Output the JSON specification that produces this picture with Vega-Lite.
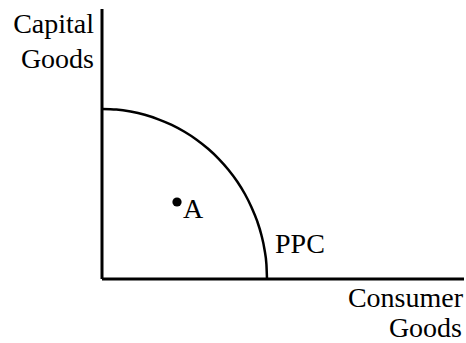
{
  "$schema": "https://vega.github.io/schema/vega-lite/v6.json",
  "width": 466,
  "height": 343,
  "padding": 0,
  "autosize": {"type": "none"},
  "config": {"view": {"stroke": null}},
  "datasets": {
    "axes": [
      {"x": 0, "y": 0, "x2": 0, "y2": 270},
      {"x": 0, "y": 0, "x2": 362, "y2": 0}
    ],
    "ppc": [
      {"consumer": 0, "capital": 170},
      {"consumer": 14.4, "capital": 169.4},
      {"consumer": 28.6, "capital": 167.4},
      {"consumer": 42.7, "capital": 164.2},
      {"consumer": 56.4, "capital": 159.7},
      {"consumer": 69.7, "capital": 154.1},
      {"consumer": 82.5, "capital": 147.2},
      {"consumer": 94.6, "capital": 139.3},
      {"consumer": 106.1, "capital": 130.2},
      {"consumer": 116.7, "capital": 120.2},
      {"consumer": 126.4, "capital": 109.3},
      {"consumer": 135.2, "capital": 97.5},
      {"consumer": 142.9, "capital": 85},
      {"consumer": 149.5, "capital": 71.8},
      {"consumer": 155.1, "capital": 58.1},
      {"consumer": 159.4, "capital": 44},
      {"consumer": 162.5, "capital": 29.5},
      {"consumer": 164.4, "capital": 14.8},
      {"consumer": 165, "capital": 0}
    ],
    "point": [{"consumer": 75, "capital": 77}],
    "labels": [
      {"text": "Capital", "x": -8, "y": 246, "align": "right"},
      {"text": "Goods", "x": -8, "y": 211, "align": "right"},
      {"text": "Consumer", "x": 361, "y": -28, "align": "right"},
      {"text": "Goods", "x": 360, "y": -58, "align": "right"},
      {"text": "A", "x": 81, "y": 61, "align": "left"},
      {"text": "PPC", "x": 173, "y": 26, "align": "left"}
    ]
  },
  "encoding": {
    "x": {"type": "quantitative", "scale": {"domain": [-102, 364], "nice": false, "zero": false}, "axis": null},
    "y": {"type": "quantitative", "scale": {"domain": [-64, 279], "nice": false, "zero": false}, "axis": null}
  },
  "layer": [
    {
      "data": {"name": "axes"},
      "mark": {"type": "rule", "color": "black", "strokeWidth": 3},
      "encoding": {
        "x": {"field": "x", "type": "quantitative"},
        "x2": {"field": "x2"},
        "y": {"field": "y", "type": "quantitative"},
        "y2": {"field": "y2"}
      }
    },
    {
      "data": {"name": "ppc"},
      "mark": {"type": "line", "color": "black", "strokeWidth": 2.5, "interpolate": "monotone"},
      "encoding": {
        "x": {"field": "consumer", "type": "quantitative"},
        "y": {"field": "capital", "type": "quantitative"},
        "order": {"field": "consumer", "type": "quantitative"}
      }
    },
    {
      "data": {"name": "point"},
      "mark": {"type": "circle", "color": "black", "opacity": 1, "size": 85},
      "encoding": {
        "x": {"field": "consumer", "type": "quantitative"},
        "y": {"field": "capital", "type": "quantitative"}
      }
    },
    {
      "data": {"name": "labels"},
      "transform": [{"filter": "datum.align === 'right'"}],
      "mark": {"type": "text", "font": "Liberation Serif", "fontSize": 28, "color": "black", "baseline": "alphabetic", "align": "right"},
      "encoding": {
        "x": {"field": "x", "type": "quantitative"},
        "y": {"field": "y", "type": "quantitative"},
        "text": {"field": "text"}
      }
    },
    {
      "data": {"name": "labels"},
      "transform": [{"filter": "datum.align === 'left'"}],
      "mark": {"type": "text", "font": "Liberation Serif", "fontSize": 28, "color": "black", "baseline": "alphabetic", "align": "left"},
      "encoding": {
        "x": {"field": "x", "type": "quantitative"},
        "y": {"field": "y", "type": "quantitative"},
        "text": {"field": "text"}
      }
    }
  ]
}
